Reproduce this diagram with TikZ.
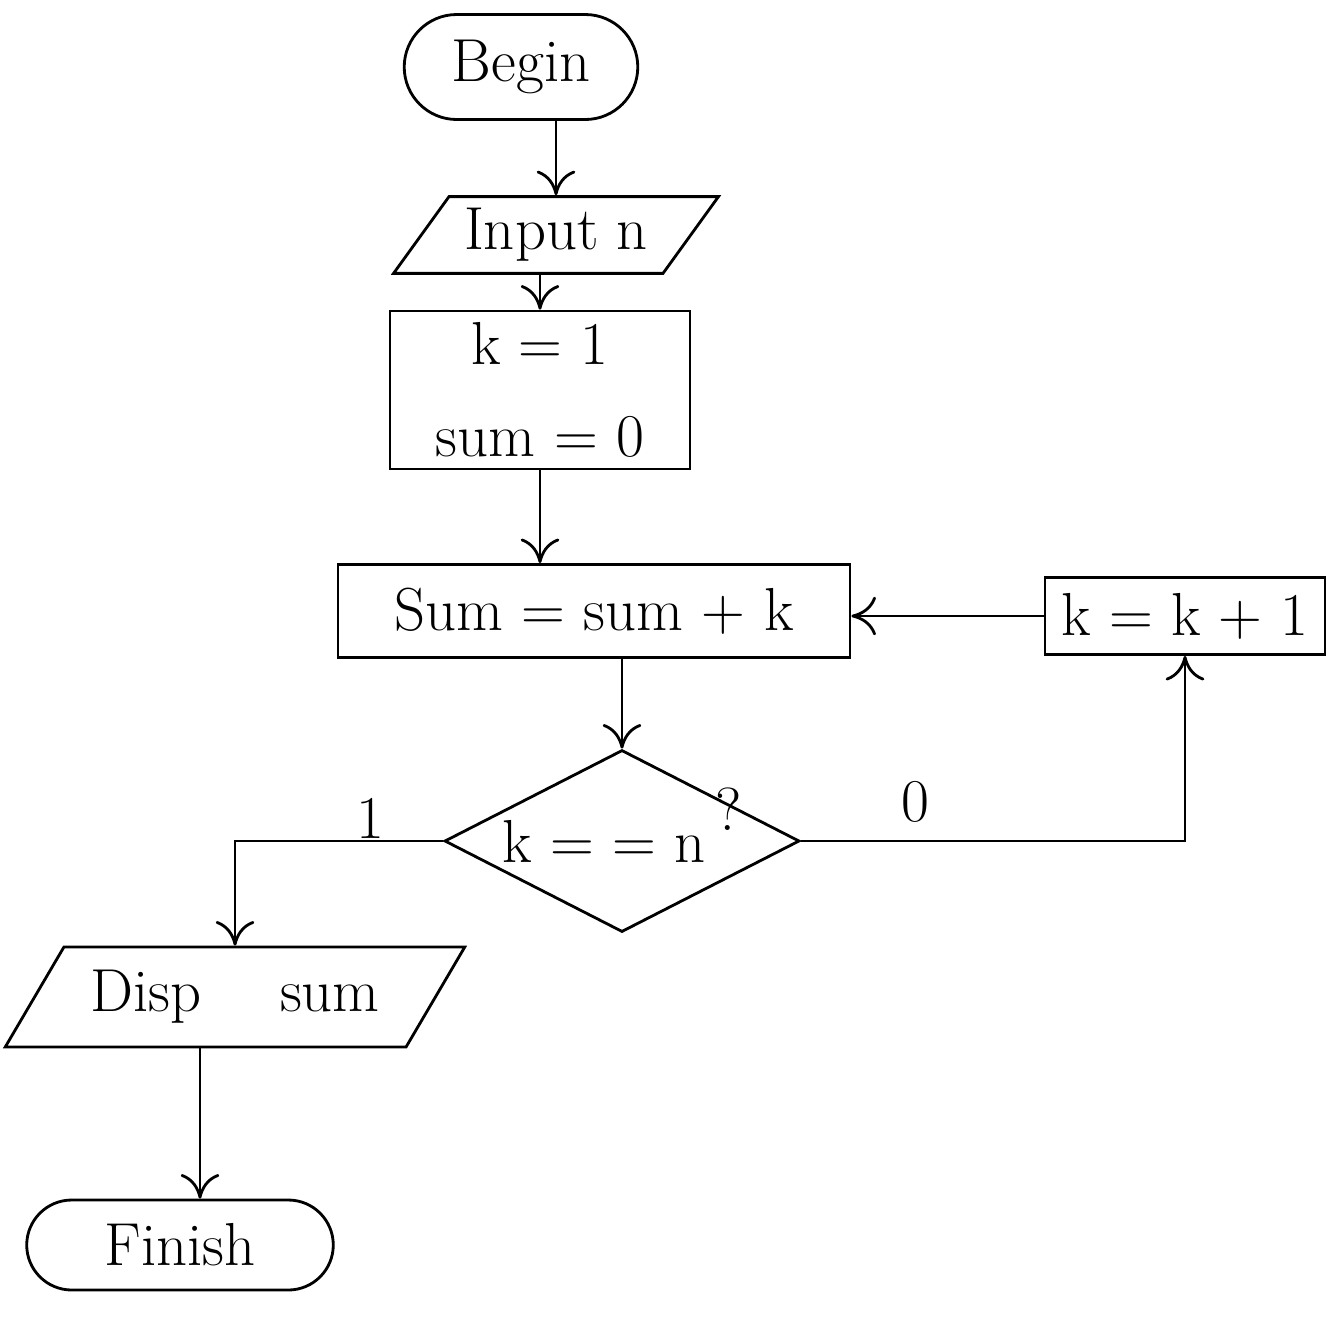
\documentclass[tikz,border=0pt]{standalone}
\usepackage{tikz}
\usetikzlibrary{shapes.geometric}
\usetikzlibrary{shapes.misc}
\usetikzlibrary{arrows.meta}
\tikzset{
  terminal/.style={draw, thick, rounded rectangle, font=\LARGE},
  io/.style={draw, thick, trapezium, trapezium left angle=55, trapezium right angle=125, trapezium stretches=true, font=\LARGE},
  process/.style={draw, thick, rectangle, font=\LARGE, align=center},
  decision/.style={draw, thick, diamond, aspect=2, inner sep=0pt, font=\LARGE},
  flowlabel/.style={font=\LARGE},
  >={To[length=7pt,width=11pt]}
}

\begin{document}
\begin{tikzpicture}
\useasboundingbox (0,0) rectangle (13.33,-13.24);
\node[terminal, minimum width=2.57cm, minimum height=1.05cm] (begin) at (5.21,-0.67) {Begin};
\node[io, minimum width=3.27cm, minimum height=0.68cm] (input) at (5.56,-2.35) {Input n};
\node[process, minimum width=3.0cm, minimum height=1.5cm] (init) at (5.40,-3.90) {k = 1\\[4pt] sum = 0};
\node[process, minimum width=5.12cm, minimum height=0.93cm] (sum) at (5.94,-6.11) {Sum = sum + k};
\node[process, minimum width=2.8cm, minimum height=0.77cm] (inc) at (11.85,-6.16) {k = k + 1};
\node[decision, minimum width=3.55cm, minimum height=1.82cm] (test) at (6.22,-8.41) {k = = n\,\smash{\raisebox{1.2ex}{?}}};
\node[io, minimum width=4.6cm, minimum height=1.0cm] (disp) at (2.35,-9.97) {Disp \quad sum};
\node[terminal, minimum width=3.3cm, minimum height=0.9cm] (finish) at (1.80,-12.45) {Finish};
\node[flowlabel] (one) at (3.70,-8.18) {1};
\node[flowlabel] (zero) at (9.15,-8.02) {0};
\draw [->, thick] (begin.south -| input.north) -- (input.north);
\draw [->, thick] (input.south -| init.north) -- (init.north);
\draw [->, thick] (init.south) -- (init.south |- sum.north);
\draw [->, thick] (sum.south -| test.north) -- (test.north);
\draw [->, thick] (test.east) -| (inc.south);
\draw [->, thick] (inc.west) -- (inc.west -| sum.east);
\draw [->, thick] (test.west) -| (disp.north);
\draw [->, thick] ([xshift=2mm]finish.north |- disp.south) -- ([xshift=2mm]finish.north);
\end{tikzpicture}
\end{document}
